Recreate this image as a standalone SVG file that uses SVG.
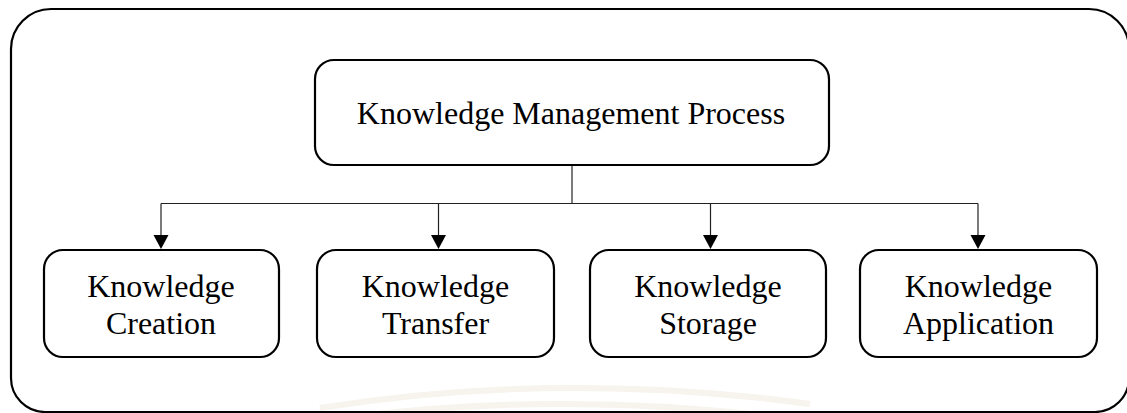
<svg xmlns="http://www.w3.org/2000/svg" width="1127" height="413" viewBox="0 0 1127 413">
  <style>
    .box { fill: #ffffff; stroke: #000000; stroke-width: 2.2; }
    .label { font-family: "Liberation Serif", "Times New Roman", serif; font-size: 32px; fill: #000000; text-anchor: middle; }
    .wire { fill: none; stroke: #222222; stroke-width: 1.2; }
    .head { fill: #000000; }
  </style>
  <defs>
    <!-- downward arrowhead, tip at origin -->
    <path id="arrowhead" class="head" d="M -7.5 -14 L 7.5 -14 L 0 0 Z"/>
  </defs>

  <rect width="1127" height="413" fill="#ffffff"/>

  <!-- faint background arcs near the bottom edge -->
  <g fill="none" stroke="#f4efe6" stroke-width="6" opacity="0.7">
    <path d="M 320 408 Q 560 370 810 404"/>
    <path d="M 360 416 Q 560 392 770 416"/>
  </g>

  <!-- outer frame -->
  <path id="frame" d="M 51 9 H 1089 A 40 40 0 0 1 1129 49 V 378 A 34 34 0 0 1 1095 412 H 45 A 34 34 0 0 1 11 378 V 49 A 40 40 0 0 1 51 9 Z" fill="none" stroke="#000000" stroke-width="2.2"/>

  <!-- connectors -->
  <g id="connectors">
    <path class="wire" d="M 572 166 V 203.5"/>
    <path class="wire" d="M 161 203.5 H 978"/>
    <path class="wire" d="M 161 203.5 V 236"/>
    <path class="wire" d="M 438.5 203.5 V 236"/>
    <path class="wire" d="M 710.5 203.5 V 236"/>
    <path class="wire" d="M 978 203.5 V 236"/>
    <use href="#arrowhead" x="161" y="249"/>
    <use href="#arrowhead" x="438.5" y="249"/>
    <use href="#arrowhead" x="710.5" y="249"/>
    <use href="#arrowhead" x="978" y="249"/>
  </g>

  <g id="node-process">
    <rect class="box" x="315" y="60" width="514" height="105" rx="19"/>
    <text class="label" x="571" y="124">Knowledge Management Process</text>
  </g>

  <g id="node-creation">
    <rect class="box" x="44" y="250" width="235" height="107" rx="19"/>
    <text class="label" x="161" y="297">Knowledge</text>
    <text class="label" x="161" y="334">Creation</text>
  </g>

  <g id="node-transfer">
    <rect class="box" x="317" y="250" width="237" height="107" rx="19"/>
    <text class="label" x="435.5" y="297">Knowledge</text>
    <text class="label" x="435.5" y="334">Transfer</text>
  </g>

  <g id="node-storage">
    <rect class="box" x="590" y="250" width="236" height="107" rx="19"/>
    <text class="label" x="708" y="297">Knowledge</text>
    <text class="label" x="708" y="334">Storage</text>
  </g>

  <g id="node-application">
    <rect class="box" x="860" y="250" width="237" height="107" rx="19"/>
    <text class="label" x="978.5" y="297">Knowledge</text>
    <text class="label" x="978.5" y="334">Application</text>
  </g>
</svg>
